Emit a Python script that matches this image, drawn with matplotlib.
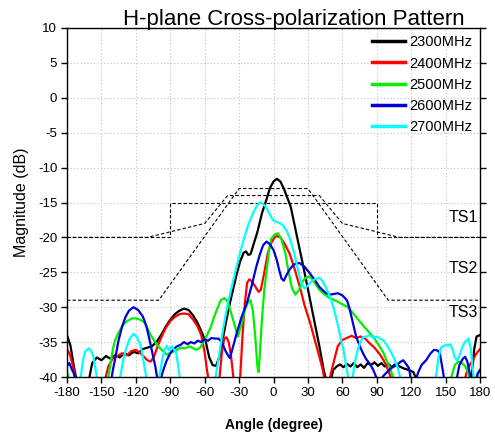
import numpy as np
import matplotlib
matplotlib.use("Agg")
import matplotlib.pyplot as plt

plt.rcParams['font.family'] = ['Liberation Sans', 'DejaVu Sans']
plt.rcParams['axes.unicode_minus'] = False

# ---- measured cross-pol data (angle in degree, magnitude in dB) ----
ang_2300 = [-180, -177, -174, -171, -164, -161, -158, -154, -150, -146, -142, -138, -134, -130, -126, -122,
            -118, -114, -110, -106, -102, -98, -94, -90, -86, -82, -78, -74, -70, -66, -62, -59, -56, -53,
            -50, -47, -44, -41, -38, -35, -32, -29, -26, -24, -22, -20, -17, -14, -10, -6, -3, 0, 3, 6, 9,
            12, 15, 20, 25, 30, 35, 40, 44, 47, 50, 52, 55, 58, 61, 64, 67, 70, 73, 76, 79, 82, 85, 88, 91,
            94, 97, 100, 103, 106, 110, 114, 118, 122, 125, 128, 170, 173, 175, 177, 180]
mag_2300 = [-34.0, -35.5, -38.5, -41, -42, -40.5, -38, -37.2, -37.6, -37.0, -37.4, -36.9, -37.2, -36.6, -36.9,
            -36.4, -36.6, -36.0, -35.8, -35.6, -35.0, -34.0, -32.8, -31.8, -31.0, -30.5, -30.2, -30.4, -31.2,
            -32.3, -33.8, -35.0, -37.2, -38.3, -38.4, -37.0, -34.4, -31.8, -29.4, -27.3, -25.2, -23.4, -22.2,
            -22.0, -22.5, -22.4, -20.8, -19.2, -16.5, -14.5, -12.9, -12.0, -11.6, -12.0, -13.0, -14.3, -15.6,
            -19.5, -23.4, -27.4, -31.5, -35.6, -39.2, -41, -40.5, -39.0, -38.5, -38.2, -38.6, -38.1, -38.5,
            -38.0, -38.6, -38.2, -38.7, -38.0, -38.3, -37.9, -38.4, -38.0, -38.5, -38.1, -38.6, -38.2, -38.5,
            -38.8, -39.0, -39.3, -40.5, -42, -42, -39.5, -36, -34.2, -34.0]

ang_2400 = [-180, -177, -174, -172, -150, -147, -144, -140, -136, -132, -128, -124, -120, -116, -113, -110,
            -107, -104, -101, -98, -94, -90, -86, -82, -78, -74, -70, -66, -63, -60, -58, -56, -50, -47, -45,
            -43, -41, -39, -37, -35, -33, -31, -29, -27, -25, -23, -21, -19, -16, -13, -11, -8, -5, -2, 1, 3,
            6, 10, 14, 18, 23, 27, 32, 36, 40, 43, 45, 48, 50, 53, 56, 60, 64, 68, 72, 76, 80, 84, 88, 92,
            96, 100, 103, 106, 165, 168, 171, 174, 177, 180]
mag_2400 = [-36.0, -37.0, -39.0, -41, -42, -40.5, -38.5, -37.3, -37.0, -36.6, -36.9, -36.3, -36.1, -36.6,
            -37.1, -37.6, -37.8, -37.0, -35.6, -34.4, -33.0, -32.0, -31.4, -31.0, -30.9, -31.0, -31.8, -32.8,
            -34.0, -36.5, -39.0, -41, -42, -40, -36.5, -34.5, -34.3, -35.0, -37.0, -40, -42, -42, -40, -34,
            -29.5, -26.5, -26.0, -26.3, -27.0, -27.8, -27.5, -25.0, -22.3, -20.8, -20.0, -19.8, -20.0, -21.0,
            -22.3, -24.3, -27.1, -29.7, -32.3, -34.7, -37.1, -39.0, -41, -41, -39.5, -37.5, -35.6, -34.7,
            -34.4, -34.1, -34.4, -34.2, -34.5, -35.2, -35.8, -36.6, -37.6, -39.0, -40.5, -42, -42, -39.5,
            -38.3, -37.5, -36.6, -36.0]

ang_2500 = [-180, -178, -176, -146, -143, -140, -138, -134, -131, -127, -123, -120, -116, -113, -110, -107,
            -104, -101, -97, -93, -89, -85, -81, -77, -73, -70, -67, -64, -61, -58, -55, -52, -49, -46, -43,
            -40, -37, -34, -31, -28, -25, -22, -20, -18, -16, -14, -13, -12, -10, -8, -6, -4, -2, 1, 4, 7, 10,
            13, 16, 19, 22, 25, 28, 31, 34, 37, 40, 44, 48, 52, 56, 60, 64, 68, 72, 76, 80, 84, 88, 92, 96,
            99, 102, 105, 108, 152, 155, 158, 161, 164, 167, 170, 172, 176, 178, 180]
mag_2500 = [-39.3, -40.5, -42, -42, -39, -36, -34.7, -33.3, -32.5, -31.9, -31.6, -31.6, -31.8, -32.1, -33.0,
            -34.0, -34.8, -35.5, -36.2, -36.8, -36.5, -36.2, -35.8, -35.9, -35.6, -35.9, -36.1, -35.8, -35.0,
            -34.0, -33.0, -31.5, -30.2, -29.0, -28.7, -29.2, -30.8, -32.5, -34.2, -32.5, -30.4, -29.2, -29.0,
            -30.5, -34, -38.5, -39.3, -37, -31.5, -27.5, -24.7, -22.0, -20.2, -19.6, -19.4, -20.3, -22.0,
            -24.8, -27.2, -28.2, -27.6, -26.4, -25.8, -25.6, -26.0, -26.8, -27.5, -28.1, -28.6, -28.9, -29.2,
            -29.6, -29.9, -30.6, -31.4, -32.2, -33.0, -33.7, -34.5, -35.5, -36.6, -37.8, -38.9, -40.5, -42,
            -42, -40, -38.3, -37.8, -38.0, -38.4, -39.5, -41, -41, -39.5, -39.0]

ang_2600 = [-180, -178, -176, -174, -172, -170, -143, -140, -137, -135, -132, -129, -126, -122, -118, -114,
            -111, -108, -105, -103, -101, -99, -97, -95, -93, -90, -87, -84, -81, -78, -75, -72, -69, -66,
            -63, -60, -57, -54, -51, -48, -45, -42, -40, -38, -35, -32, -28, -23, -19, -15, -12, -9, -6, -3,
            0, 3, 5, 7, 9, 11, 14, 17, 20, 23, 27, 31, 36, 40, 45, 49, 53, 56, 60, 64, 66, 68, 70, 72, 75, 78,
            81, 84, 87, 90, 93, 96, 99, 102, 105, 108, 111, 113, 115, 118, 120, 123, 126, 129, 133, 137, 140,
            143, 145, 147, 149, 151, 158, 160, 162, 165, 167, 169, 171, 173, 176, 178, 180]
mag_2600 = [-38.4, -38.0, -38.8, -39.5, -41, -42, -42, -39, -36.5, -34.7, -32.8, -31.4, -30.5, -30.0, -30.4,
            -31.3, -32.6, -34.7, -37.0, -38.5, -40.5, -41, -39.5, -38.5, -37.6, -36.6, -36.0, -35.6, -35.4,
            -35.0, -35.3, -35.0, -35.2, -34.8, -35.0, -34.6, -34.8, -34.4, -34.5, -34.5, -35.0, -36.2, -36.8,
            -37.3, -35.5, -33.7, -31.5, -29.3, -26.9, -24.2, -22.5, -21.1, -20.6, -21.0, -21.8, -23.3, -24.7,
            -25.9, -26.2, -25.5, -24.6, -24.0, -23.7, -23.7, -24.2, -25.0, -26.1, -27.1, -27.9, -28.2, -28.1,
            -28.0, -28.3, -29.0, -30.0, -31.4, -32.8, -34.2, -35.5, -36.6, -37.5, -38.1, -39.0, -40.2, -40.5,
            -39.8, -39.3, -38.8, -38.5, -38.2, -37.8, -37.6, -38.0, -38.7, -40.5, -41, -39.4, -38.3, -37.6,
            -36.6, -36.1, -36.2, -36.6, -38.5, -40.5, -42, -42, -40, -38.3, -37.4, -37.1, -37.8, -39.4, -41,
            -41, -39.5, -39.0]

ang_2700 = [-180, -170, -168, -166, -164, -161, -159, -157, -155, -153, -135, -133, -131, -128, -125, -122,
            -119, -116, -114, -112, -110, -101, -99, -97, -95, -93, -91, -89, -87, -85, -83, -81, -53, -51,
            -48, -44, -40, -35, -30, -26, -22, -18, -15, -12, -9, -6, -3, 0, 3, 6, 9, 12, 15, 18, 21, 23, 25,
            27, 30, 33, 36, 40, 43, 46, 49, 52, 55, 57, 59, 61, 63, 65, 67, 69, 71, 73, 75, 78, 81, 84, 87, 90,
            93, 96, 99, 102, 105, 108, 110, 112, 140, 142, 144, 146, 148, 150, 152, 154, 156, 158, 160, 162,
            164, 166, 168, 170, 172, 174, 176, 180]
mag_2700 = [-42, -42, -40, -37.5, -36.3, -35.9, -36.2, -37.1, -39, -41, -41, -39.5, -37.5, -35.7, -34.4, -33.8,
            -34.3, -35.4, -37.0, -39.0, -41, -41, -39.5, -37.5, -36.2, -35.5, -36.2, -35.6, -36.0, -36.4,
            -38.5, -41, -41, -40.5, -37.5, -33.2, -29.6, -26.1, -22.7, -20.3, -18.2, -16.6, -15.6, -15.0,
            -15.2, -15.8, -16.8, -17.6, -17.8, -18.0, -18.4, -19.2, -20.5, -22.2, -24.4, -25.8, -26.8, -27.3,
            -26.9, -26.3, -26.0, -25.8, -26.3, -27.3, -28.4, -29.9, -31.8, -33.2, -34.8, -36.1, -38.0, -40,
            -41, -40, -37.8, -36.4, -35.3, -34.3, -34.2, -34.0, -34.4, -34.2, -34.5, -34.8, -35.5, -36.3,
            -37.3, -38.5, -39.8, -41, -41, -39.5, -37.0, -35.8, -35.6, -35.4, -35.5, -35.3, -36.0, -37.2,
            -37.6, -37.0, -36.0, -35.2, -34.8, -34.5, -36, -39.5, -41, -41]

labels = ['2300MHz', '2400MHz', '2500MHz', '2600MHz', '2700MHz']
colors = ['black', 'red', '#00ee00', '#0000dd', 'cyan']

# ---- limit masks ----
ts1_ang = [-180, -90, -90, 90, 90, 180]
ts1_mag = [-20, -20, -15, -15, -20, -20]
ts2_ang = [-180, -110, -60, -40, 40, 60, 110, 180]
ts2_mag = [-20, -20, -18, -14, -14, -18, -20, -20]
ts3_ang = [-180, -100, -30, 30, 100, 180]
ts3_mag = [-29, -29, -13, -13, -29, -29]

# ---- plot ----
fig = plt.figure(figsize=(4.95, 4.41), dpi=100)
ax = fig.add_axes((67 / 495., 1 - 377 / 441., 413 / 495., 349 / 441.))

for a, m in [(ts1_ang, ts1_mag), (ts2_ang, ts2_mag), (ts3_ang, ts3_mag)]:
    ax.plot(a, m, color='black', lw=0.8, dashes=(3, 2))

series = [(ang_2300, mag_2300), (ang_2400, mag_2400), (ang_2500, mag_2500),
          (ang_2600, mag_2600), (ang_2700, mag_2700)]
handles = []
for (a, m), c, lab in zip(series, colors, labels):
    h, = ax.plot(a, m, color=c, lw=1.6, label=lab)
    handles.append(h)

ax.set_xlim(-180, 180)
ax.set_ylim(-40, 10)
ax.set_xticks(np.arange(-180, 181, 30))
ax.set_yticks(np.arange(-40, 11, 5))
ax.grid(True, color='#c0c0c0', linestyle=(0, (1, 2)), lw=0.8)
ax.tick_params(direction='out', length=4, width=1, labelsize=9.5, pad=3, right=True)
for s in ax.spines.values():
    s.set_linewidth(1.0)

ax.set_ylabel('Magnitude (dB)', fontsize=11.5)
ax.yaxis.set_label_coords(-0.092, 0.5)
ax.set_xlabel('Angle (degree)', fontsize=10, fontweight='bold')
ax.xaxis.set_label_coords(0.5, -0.117)

for txt, y in [('TS1', -17.1), ('TS2', -24.4), ('TS3', -30.7)]:
    ax.text(178, y, txt, fontsize=11.5, ha='right', va='center')

leg = ax.legend(handles=handles, loc='upper right', frameon=False, fontsize=10.5,
                handlelength=2.3, handletextpad=0.3, labelspacing=0.5,
                borderaxespad=0.2, borderpad=0.3)
for l in leg.get_lines():
    l.set_linewidth(2.5)

fig.text(465 / 495., 1 - 25 / 441., 'H-plane Cross-polarization Pattern',
         fontsize=16, ha='right', va='baseline')

plt.savefig('out.png', dpi=100)
